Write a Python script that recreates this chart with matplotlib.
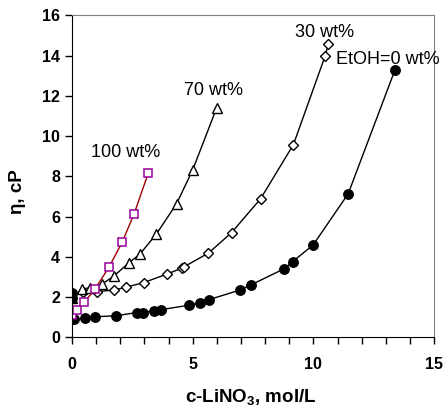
import numpy as np
import matplotlib
matplotlib.use("Agg")
import matplotlib.pyplot as plt

plt.rcParams['font.family'] = ['Liberation Sans', 'DejaVu Sans']

# viscosity vs LiNO3 concentration, per EtOH content
c_0 = [0, 0.1, 0.52, 0.95, 1.84, 2.68, 2.93, 3.41, 3.67, 4.83, 5.3, 5.67,
       6.94, 7.41, 8.78, 9.14, 9.99, 11.44, 13.37]
eta_0 = [0.9, 0.9, 0.95, 1.03, 1.08, 1.24, 1.24, 1.32, 1.38, 1.6, 1.73, 1.88,
         2.35, 2.61, 3.41, 3.77, 4.6, 7.14, 13.27]

c_30 = [0, 0.45, 1.02, 1.75, 2.24, 2.98, 3.95, 4.54, 4.65, 5.65, 6.61, 7.81,
        9.17, 10.48, 10.62]
eta_30 = [2.2, 2.25, 2.28, 2.36, 2.5, 2.73, 3.16, 3.44, 3.52, 4.19, 5.21, 6.89,
          9.58, 13.97, 14.59]

c_70 = [0, 0.41, 0.76, 1.24, 1.72, 2.37, 2.82, 3.5, 4.33, 5.0, 5.99]
eta_70 = [1.95, 2.4, 2.48, 2.65, 3.04, 3.72, 4.15, 5.15, 6.64, 8.33, 11.4]

c_100 = [0, 0.21, 0.51, 0.95, 1.53, 2.08, 2.57, 3.16]
eta_100 = [1.12, 1.37, 1.75, 2.4, 3.49, 4.74, 6.13, 8.17]

labels = ["EtOH=0 wt%", "30 wt%", "70 wt%", "100 wt%"]

fig = plt.figure(figsize=(4.43, 4.07), dpi=100)
ax = fig.add_axes([0.1625, 0.1708, 0.8175, 0.7912])

ax.plot(c_0, eta_0, color='black', lw=1, marker='o', ms=6.8, mfc='black', mec='black')
ax.plot(c_30, eta_30, color='black', lw=1, marker='D', ms=5.2, mfc='white', mec='black', mew=1)
ax.plot(c_70, eta_70, color='black', lw=1, marker='^', ms=6.5, mfc='white', mec='black', mew=1)
ax.plot(c_100, eta_100, color='#a00000', lw=1, marker='s', ms=6.2, mfc='white', mec='#990099', mew=1.1)
# pure solvent points at c=0 drawn filled
ax.plot([c_30[0], c_70[0]], [eta_30[0], eta_70[0]], ls='none', marker='o', ms=6.8, color='black')

ax.text(13.08, 13.8, labels[0], ha='center', va='center', fontsize=13)
ax.text(10.46, 15.15, labels[1], ha='center', va='center', fontsize=13)
ax.text(5.88, 12.28, labels[2], ha='center', va='center', fontsize=13)
ax.text(2.22, 9.18, labels[3], ha='center', va='center', fontsize=13)

ax.set_xlim(0, 15)
ax.set_ylim(0, 16)
ax.set_xticks([0, 5, 10, 15])
ax.set_xticks(np.arange(0, 16, 1), minor=True)
ax.set_yticks(np.arange(0, 17, 2))
ax.tick_params(axis='both', which='both', direction='out', length=5, width=1,
               labelsize=11.5)
ax.tick_params(axis='x', pad=9)
for lab in ax.get_xticklabels() + ax.get_yticklabels():
    lab.set_fontweight('bold')

for s in ['top', 'right']:
    ax.spines[s].set_color('#808080')
for s in ['left', 'bottom']:
    ax.spines[s].set_color('black')

fig.text(0.565, 0.023, 'c-LiNO$_\\mathregular{3}$, mol/L', ha='center', va='center',
         fontsize=13.5, fontweight='bold')
fig.text(0.04, 0.53, 'η, cP', ha='center', va='center', rotation=90,
         fontsize=13.5, fontweight='bold')

fig.savefig('out.png', dpi=100)
